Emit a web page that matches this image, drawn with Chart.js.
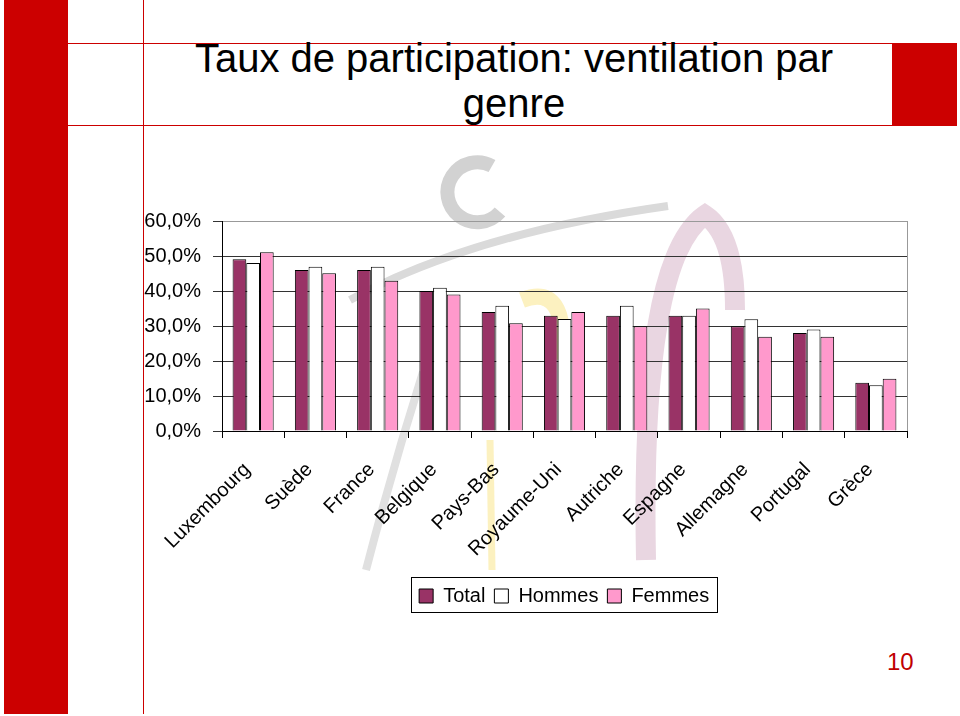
<!DOCTYPE html>
<html>
<head>
<meta charset="utf-8">
<script src="https://cdn.jsdelivr.net/npm/chart.js@4"></script>
<style>
    body { margin: 0; background: #fff; }
    #slide { position: relative; width: 960px; height: 716px; overflow: hidden; font-family: 'Liberation Sans', Arial, sans-serif; }
    .red { position: absolute; background: #cc0000; }
    #title { position: absolute; left: 68px; width: 892px; top: 36px; text-align: center; font-size: 40px; line-height: 45px; color: #000; }
    #pageNo { position: absolute; left: 887px; top: 648px; font-size: 24px; color: #c00000; }
    #watermark { position: absolute; left: 0; top: 0; }
    #chart { position: absolute; left: 0; top: 0; }
</style>
</head>
<body>
<div id="slide">
    <div class="red" style="left:4px;top:0;width:64px;height:714px"></div>
    <div class="red" style="left:143px;top:0;width:1px;height:714px"></div>
    <div class="red" style="left:68px;top:43px;width:889px;height:1px"></div>
    <div class="red" style="left:68px;top:125px;width:889px;height:1px"></div>
    <div class="red" style="left:892px;top:43px;width:65px;height:83px"></div>
    <svg id="watermark" width="960" height="716" fill="none">
        <path d="M 492 166 A 30 30 0 1 0 500 212" stroke="#d2d2d2" stroke-width="14"/>
        <path d="M 350 300 Q 470 234 668 206" stroke="#dadada" stroke-width="8"/>
        <path d="M 423 372 Q 392 470 366 570" stroke="#e0e0e0" stroke-width="8"/>
        <path d="M 522 300 Q 568 282 562 360" stroke="#fcf1c0" stroke-width="16"/>
        <path d="M 490 440 L 492 570" stroke="#fcf1c0" stroke-width="7"/>
        <path d="M 646 560 Q 640 260 705 215 Q 735 235 735 310" stroke="#e9d6e1" stroke-width="20"/>
    </svg>
    <div id="title">Taux de participation: ventilation par<br>genre</div>
    <div id="pageNo">10</div>
    <canvas id="chart" width="960" height="716"></canvas>
</div>
<script>
const categories = ['Luxembourg', 'Suède', 'France', 'Belgique', 'Pays-Bas', 'Royaume-Uni',
    'Autriche', 'Espagne', 'Allemagne', 'Portugal', 'Grèce'];
const seriesNames = ['Total', 'Hommes', 'Femmes'];
const totalValues = [49.1, 46.0, 46.0, 40.0, 34.0, 32.9, 32.9, 32.9, 29.9, 28.0, 13.8];
const hommesValues = [48.0, 46.9, 46.9, 40.9, 35.8, 32.0, 35.8, 32.9, 31.9, 29.0, 13.1];
const femmesValues = [51.1, 45.1, 42.9, 39.0, 30.8, 34.0, 29.9, 35.0, 26.9, 26.9, 14.9];
const yTicks = [0, 10, 20, 30, 40, 50, 60];

const font = "'Liberation Sans', Arial, sans-serif";

// legend placement + frame, right edge of the plot area
const slideFrame = {
    id: 'slideFrame',
    afterLayout(chart) {
        const lg = chart.legend;
        lg.left = 380; lg.right = 748.3; lg.top = 577; lg.bottom = 613;
    },
    beforeDatasetsDraw(chart) {
        const {ctx, chartArea} = chart;
        ctx.save();
        ctx.strokeStyle = '#999';
        ctx.lineWidth = 1;
        ctx.beginPath();
        ctx.moveTo(chartArea.right + 0.5, chartArea.top);
        ctx.lineTo(chartArea.right + 0.5, chartArea.bottom);
        ctx.stroke();
        ctx.restore();
    },
    afterDraw(chart) {
        const ctx = chart.ctx;
        ctx.save();
        ctx.strokeStyle = '#000';
        ctx.lineWidth = 1;
        ctx.strokeRect(411.5, 577.5, 306, 35);
        ctx.restore();
    }
};

new Chart(document.getElementById('chart'), {
    type: 'bar',
    data: {
        labels: categories,
        datasets: [{
            label: seriesNames[0],
            data: totalValues,
            backgroundColor: '#993366',
            borderColor: '#000',
            borderWidth: 1
        }, {
            label: seriesNames[1],
            data: hommesValues,
            backgroundColor: '#ffffff',
            borderColor: '#000',
            borderWidth: 1
        }, {
            label: seriesNames[2],
            data: femmesValues,
            backgroundColor: '#ff99cc',
            borderColor: '#000',
            borderWidth: 1
        }]
    },
    options: {
        responsive: false,
        animation: false,
        devicePixelRatio: 1,
        categoryPercentage: 0.66,
        barPercentage: 1,
        layout: {
            padding: { left: 130, right: 53, top: 221, bottom: 106 }
        },
        plugins: {
            title: { display: false },
            tooltip: { enabled: false },
            legend: {
                position: 'bottom',
                labels: {
                    color: '#000',
                    font: { family: font, size: 20 },
                    boxWidth: 14,
                    boxHeight: 14,
                    padding: 9
                }
            }
        },
        scales: {
            x: {
                afterFit(scale) { scale.height = 140; },
                grid: {
                    drawOnChartArea: false,
                    drawTicks: true,
                    tickLength: 7,
                    color: '#000'
                },
                border: { color: '#000', width: 1 },
                ticks: {
                    color: '#000',
                    font: { family: font, size: 20 },
                    minRotation: 45,
                    maxRotation: 45,
                    autoSkip: false,
                    padding: 20,
                    labelOffset: -6
                }
            },
            y: {
                min: 0,
                max: 60,
                afterFit(scale) { scale.width = 92; },
                afterBuildTicks(scale) { scale.ticks = yTicks.map(v => ({ value: v })); },
                grid: {
                    color: ctx => ctx.tick && ctx.tick.value === 60 ? '#999' : '#333',
                    tickColor: '#333',
                    tickLength: 9
                },
                border: { color: '#000', width: 1 },
                ticks: {
                    color: '#000',
                    font: { family: font, size: 20 },
                    padding: 12,
                    callback: v => v.toFixed(1).replace('.', ',') + '%'
                }
            }
        }
    },
    plugins: [slideFrame]
});
</script>
</body>
</html>
